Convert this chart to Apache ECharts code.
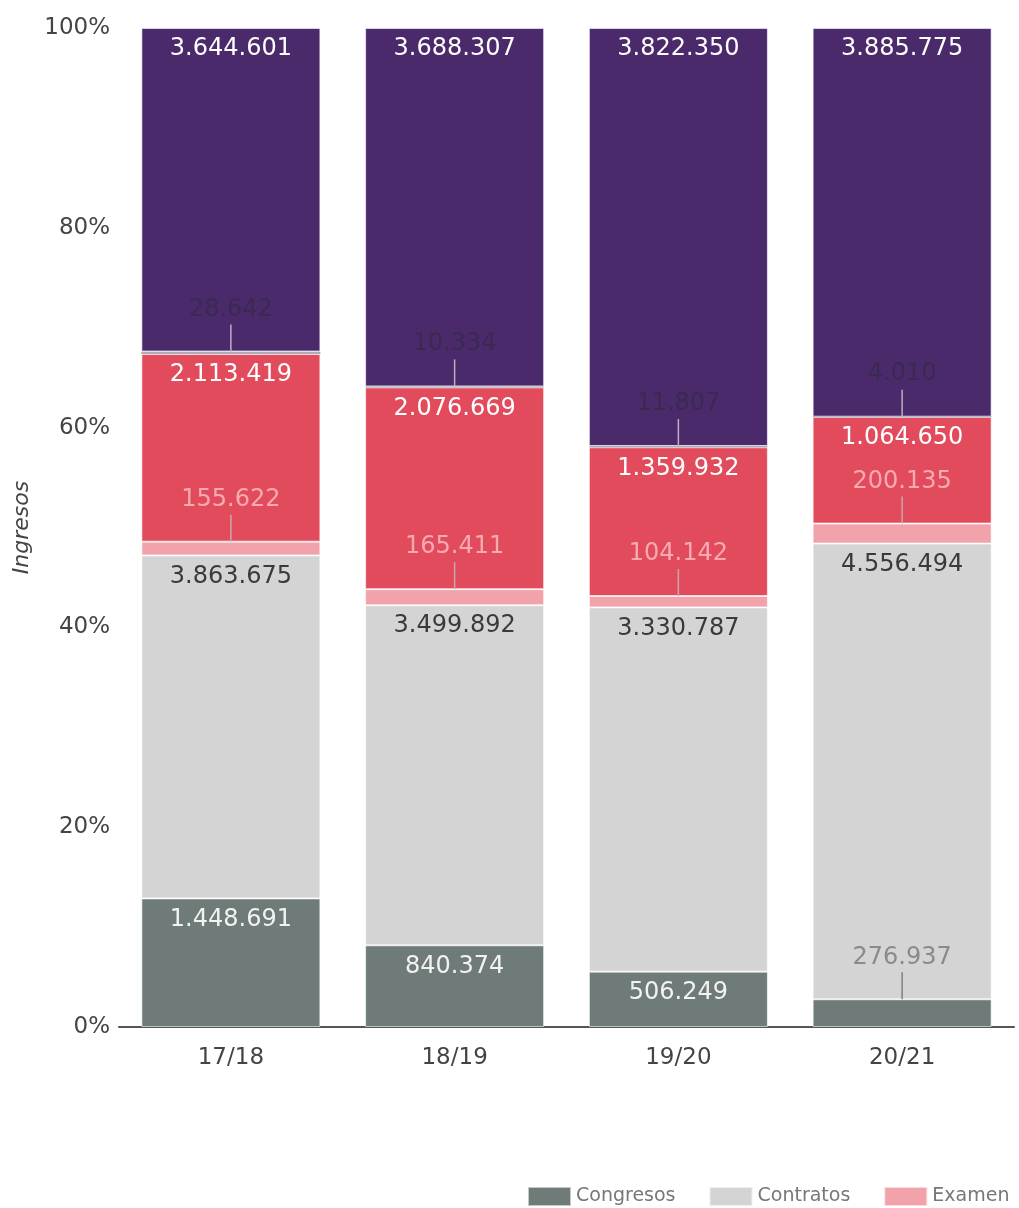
<!DOCTYPE html>
<html><head><meta charset="utf-8">
<script src="https://cdn.jsdelivr.net/npm/echarts@6/dist/echarts.min.js"></script>
<style>html,body{margin:0;padding:0;background:#fff}#c{width:1019px;height:1208px}</style>
</head><body><div id="c"></div>
<script>
const categories = ['17/18', '18/19', '19/20', '20/21'];
const congresos = [1448691, 840374, 506249, 276937];
const contratos = [3863675, 3499892, 3330787, 4556494];
const examen = [155622, 165411, 104142, 200135];
const serieRoja = [2113419, 2076669, 1359932, 1064650];
const serieFina = [28642, 10334, 11807, 4010];
const seriePurpura = [3644601, 3688307, 3822350, 3885775];
const yTicks = [0, 20, 40, 60, 80, 100];

const all = [congresos, contratos, examen, serieRoja, serieFina, seriePurpura];
const totals = categories.map((_, i) => all.reduce((s, a) => s + a[i], 0));
const pct = (arr, i) => arr[i] / totals[i] * 100;
const cumTop = (k, i) => { let s = 0; for (let j = 0; j <= k; j++) s += pct(all[j], i); return s; };
const fmt = v => String(v).replace(/\B(?=(\d{3})+(?!\d))/g, '.');
const FONT = 'DejaVu Sans';
const LIFT = 30;

function lifted(p) {
  const r = p.labelRect;
  return { x: r.x + r.width / 2, y: r.y + r.height - LIFT, align: 'center', verticalAlign: 'bottom' };
}

function mk(name, raw, color, labelColor, opts) {
  opts = opts || {};
  return {
    name: name, type: 'bar', stack: 'total', barWidth: '80%',
    itemStyle: Object.assign({ color: color, borderColor: 'rgba(255,255,255,0.6)', borderWidth: 1 }, opts.itemStyle || {}),
    label: {
      show: true, position: opts.position || 'insideTop', distance: opts.position === 'top' ? 0 : 9,
      color: labelColor, fontFamily: FONT, fontSize: 24,
      formatter: p => fmt(raw[p.dataIndex])
    },
    labelLayout: opts.layout,
    data: raw.map((v, i) => {
      const d = { value: pct(raw, i) };
      if (opts.item && opts.item[i]) Object.assign(d, opts.item[i]);
      return d;
    })
  };
}

const series = [
  mk('Congresos', congresos, '#6e7b78', '#f2f2f2', {
    item: { 3: { label: { position: 'top', distance: 0, color: '#8a8a8a' } } },
    layout: p => p.dataIndex === 3 ? lifted(p) : {}
  }),
  mk('Contratos', contratos, '#d4d4d4', '#3a3a3a'),
  mk('Examen', examen, '#f1a2ab', '#f7aab2', { position: 'top', layout: lifted }),
  mk('Matrícula', serieRoja, '#e24b5c', '#ffffff'),
  mk('Otros', serieFina, '#aaa4b0', '#3a2a52', { position: 'top', layout: lifted,
    itemStyle: { borderColor: '#b0aab6', borderWidth: 1.5 } }),
  mk('Subvenciones', seriePurpura, '#4a2a6a', '#ffffff')
];

// leader lines: from the top of a segment up to its lifted label
const leaderData = [];
[0, 1, 2, 3].forEach(i => leaderData.push([i, cumTop(2, i), '#c9a6ab']));
[0, 1, 2, 3].forEach(i => leaderData.push([i, cumTop(4, i), '#b9b0c0']));
leaderData.push([3, cumTop(0, 3), '#7f7f7f']);

series.push({
  type: 'custom', name: 'leaders', silent: true, z: 5,
  renderItem: (params, api) => {
    const p = api.coord([api.value(0), api.value(1)]);
    return {
      type: 'line',
      shape: { x1: p[0], y1: p[1], x2: p[0], y2: p[1] - 27 },
      style: { stroke: leaderData[params.dataIndex][2], lineWidth: 1.5 }
    };
  },
  encode: { x: 0, y: 1 },
  data: leaderData
});

const chart = echarts.init(document.getElementById('c'));
chart.setOption({
  animation: false,
  textStyle: { fontFamily: FONT },
  grid: { left: 119, right: 5, top: 28, bottom: 181 },
  legend: {
    data: ['Congresos', 'Contratos', 'Examen'],
    left: 527, top: 1186, padding: 0, itemWidth: 43, itemHeight: 19, itemGap: 33,
    icon: 'rect',
    textStyle: { color: '#777', fontSize: 19, fontFamily: FONT }
  },
  xAxis: {
    type: 'category', data: categories,
    axisLine: { lineStyle: { color: '#555', width: 2 } },
    axisTick: { show: false },
    axisLabel: { color: '#444', fontSize: 23, margin: 20, fontFamily: FONT }
  },
  yAxis: {
    type: 'value', min: 0, max: 100, interval: 20,
    name: 'Ingresos', nameLocation: 'middle', nameGap: 86, nameRotate: 90,
    nameTextStyle: { color: '#444', fontSize: 22, fontStyle: 'italic', fontFamily: FONT },
    axisLine: { show: false }, axisTick: { show: false }, splitLine: { show: false },
    axisLabel: { color: '#444', fontSize: 23, margin: 9, fontFamily: FONT,
      formatter: v => yTicks.includes(v) ? v + '%' : '' }
  },
  series: series
});
</script></body></html>
